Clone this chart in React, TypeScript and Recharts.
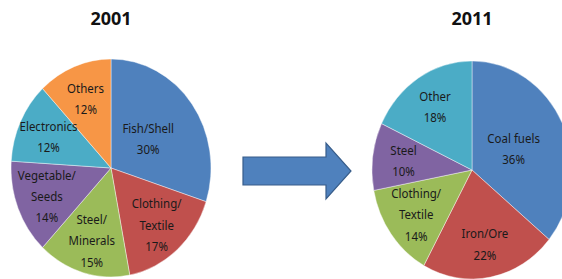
import { PieChart, Pie, Cell } from "recharts";

const names2001 = ["Fish/Shell", "Clothing/\nTextile", "Steel/\nMinerals", "Vegetable/\nSeeds", "Electronics", "Others"];
const values2001 = [30, 17, 15, 14, 12, 12];
const colors2001 = ["#4F81BD", "#C0504D", "#9BBB59", "#8064A2", "#4BACC6", "#F79646"];

const names2011 = ["Coal fuels", "Iron/Ore", "Clothing/\nTextile", "Steel", "Other"];
const values2011 = [36, 22, 14, 10, 18];
const colors2011 = ["#4F81BD", "#C0504D", "#9BBB59", "#8064A2", "#4BACC6"];

const RAD = Math.PI / 180;
const SIZE = 230;
const STRETCH = 1.09;

const renderLabel = (props: any) => {
  const { cx, cy, midAngle, outerRadius, percent, name, value } = props;
  // the biggest slice gets its label pulled in toward the centre, like Excel does
  const r = outerRadius * (percent > 0.25 ? 0.46 : 0.69);
  const x = cx + r * Math.cos(-midAngle * RAD);
  const y = cy + r * Math.sin(-midAngle * RAD);
  const lines = [...String(name).split("\n"), `${value}%`];
  const lh = 19.5;
  const y0 = y - ((lines.length - 1) * lh) / 2;
  return (
    <text
      x={x}
      y={y0}
      textAnchor="middle"
      dominantBaseline="central"
      fontSize={11.5}
      fill="#1a1a1a"
      fontFamily="'Noto Sans', sans-serif"
    >
      {lines.map((l, i) => (
        <tspan key={i} x={x} y={y0 + i * lh}>
          {l}
        </tspan>
      ))}
    </text>
  );
};

function YearPie({ names, values, colors, cx, cy }: { names: string[]; values: number[]; colors: string[]; cx: number; cy: number }) {
  const data = names.map((name, i) => ({ name, value: values[i] }));
  return (
    <div
      style={{
        position: "absolute",
        left: cx - SIZE / 2,
        top: cy - SIZE / 2,
        width: SIZE,
        height: SIZE,
        transform: `scale(1, ${STRETCH})`,
        transformOrigin: "50% 50%",
      }}
    >
      <PieChart width={SIZE} height={SIZE} margin={{ top: 0, right: 0, bottom: 0, left: 0 }}>
        <Pie
          data={data}
          dataKey="value"
          nameKey="name"
          cx="50%"
          cy="50%"
          outerRadius={100}
          startAngle={90}
          endAngle={-270}
          stroke="#ffffff"
          strokeOpacity={0.5}
          strokeWidth={0.8}
          label={renderLabel}
          labelLine={false}
          isAnimationActive={false}
        >
          {data.map((d, i) => (
            <Cell key={d.name} fill={colors[i]} />
          ))}
        </Pie>
      </PieChart>
    </div>
  );
}

export default function App() {
  return (
    <div
      style={{
        position: "absolute",
        left: 0,
        top: 0,
        width: 562,
        height: 279,
        overflow: "hidden",
        background: "#fff",
      }}
    >
      <YearPie names={names2001} values={values2001} colors={colors2001} cx={111} cy={168} />
      <YearPie names={names2011} values={values2011} colors={colors2011} cx={472} cy={170} />
      <svg width={562} height={279} style={{ position: "absolute", left: 0, top: 0, pointerEvents: "none" }}>
        <text x={111} y={18} textAnchor="middle" dominantBaseline="central" fontSize={18} fontWeight="bold" fontFamily="'Noto Sans', sans-serif" fill="#111">
          2001
        </text>
        <text x={472} y={18} textAnchor="middle" dominantBaseline="central" fontSize={18} fontWeight="bold" fontFamily="'Noto Sans', sans-serif" fill="#111">
          2011
        </text>
        <polygon
          points="243,157 326,157 326,143 351,171 326,199 326,185 243,185"
          fill="#4F81BD"
          stroke="#385D8A"
          strokeWidth={1.2}
        />
      </svg>
    </div>
  );
}
